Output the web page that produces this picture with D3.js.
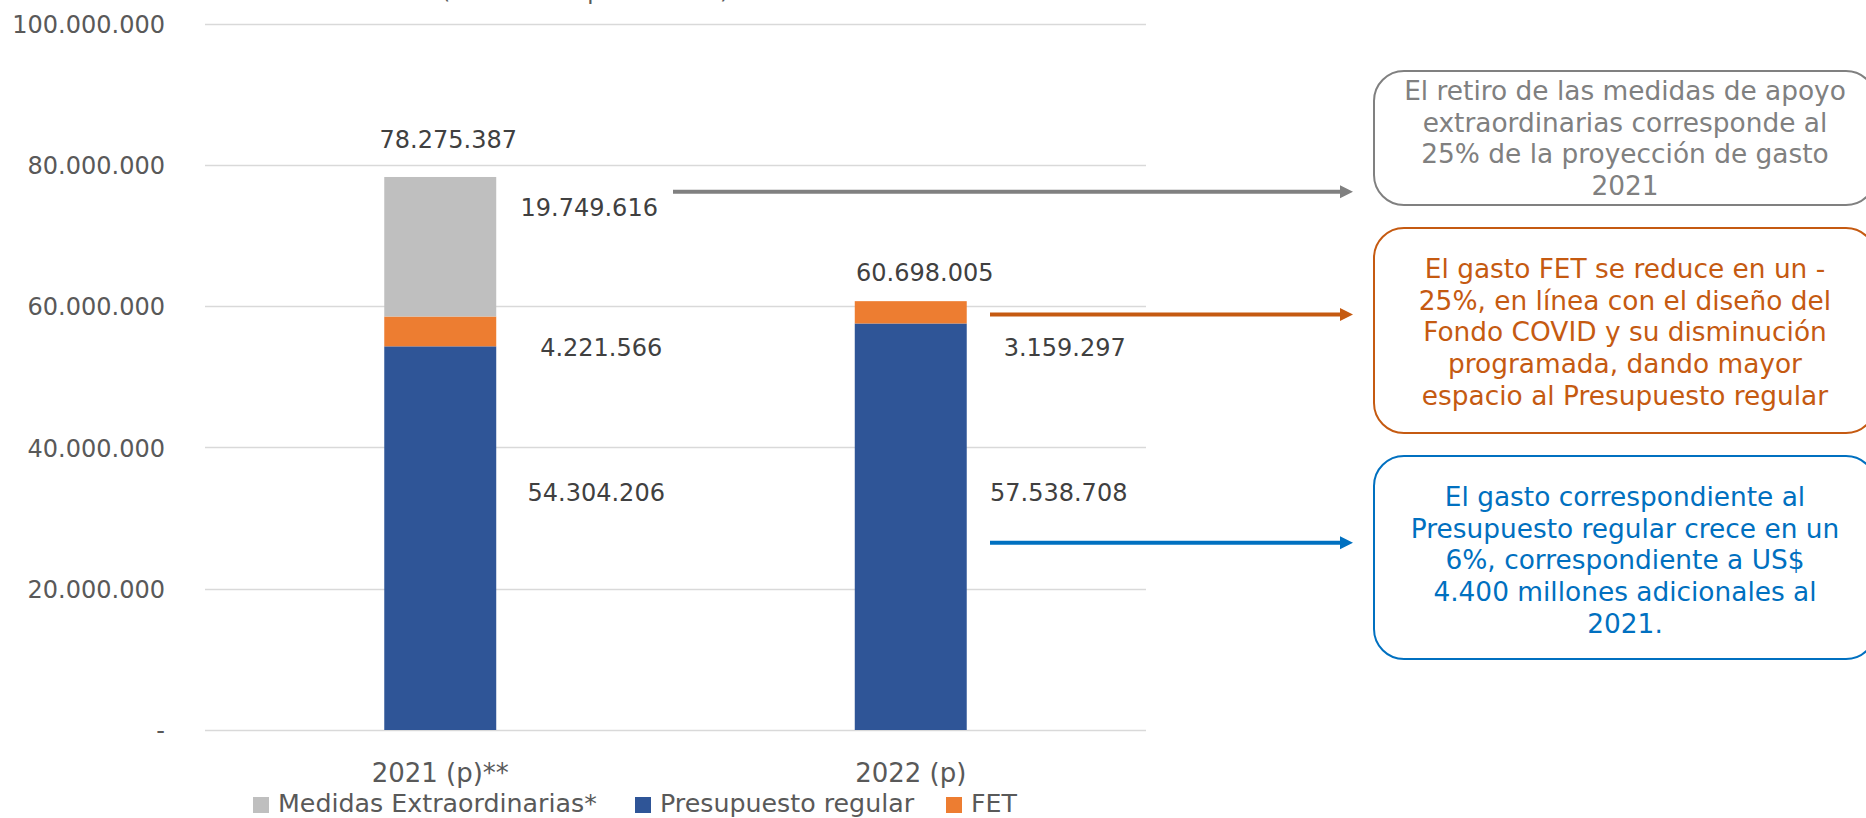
<!DOCTYPE html>
<html><head><meta charset="utf-8">
<script src="https://cdn.jsdelivr.net/npm/d3@7"></script>
<style>html,body{margin:0;padding:0;background:#fff;overflow:hidden}</style>
</head><body><svg id="c" width="1866" height="818"></svg>
<script>
// ---------- data ----------
const categories = ["2021 (p)**", "2022 (p)"];
const presupuestoRegular = [54304206, 57538708];
const fet = [4221566, 3159297];
const medidasExtraordinarias = [19749616, 0];
const totals = [78275387, 60698005];
const yTicks = [0, 20000000, 40000000, 60000000, 80000000, 100000000];
const seriesKeys = ["Presupuesto regular", "FET", "Medidas Extraordinarias*"];
const legendOrder = ["Medidas Extraordinarias*", "Presupuesto regular", "FET"];
const titleText = "(Millones de pesos 2022)";
const note1 = ["El retiro de las medidas de apoyo", "extraordinarias corresponde al", "25% de la proyección de gasto", "2021"];
const note2 = ["El gasto FET se reduce en un -", "25%, en línea con el diseño del", "Fondo COVID y su disminución", "programada, dando mayor", "espacio al Presupuesto regular"];
const note3 = ["El gasto correspondiente al", "Presupuesto regular crece en un", "6%, correspondiente a US$", "4.400 millones adicionales al", "2021."];

// ---------- layout / style ----------
const colors = {"Medidas Extraordinarias*": "#BFBFBF", "Presupuesto regular": "#2F5597", "FET": "#ED7D31"};
const FONT = "'DejaVu Sans', Verdana, sans-serif";
const svg = d3.select("#c");

const table = categories.map((c, i) => ({
  cat: c,
  "Presupuesto regular": presupuestoRegular[i],
  "FET": fet[i],
  "Medidas Extraordinarias*": medidasExtraordinarias[i],
  total: totals[i]
}));

const x = d3.scaleBand().domain(categories).range([205, 1146]).paddingInner(0.762).paddingOuter(0.381);
const y = d3.scaleLinear().domain([0, 100000000]).range([730, 23.5]);
const locale = d3.formatLocale({decimal: ",", thousands: ".", grouping: [3], currency: ["$", ""]});
const fmt = v => v === 0 ? "-" : locale.format(",.0f")(v);

// title (mostly cropped off the top, as in the source)
svg.append("text").attr("x", 585).attr("y", -1.5).attr("text-anchor", "middle")
  .attr("font-family", FONT).attr("font-size", 23).attr("fill", "#595959").text(titleText);

// gridlines
svg.append("g").selectAll("line").data(yTicks).join("line")
  .attr("x1", 205).attr("x2", 1146)
  .attr("y1", d => Math.round(y(d)) + 0.5).attr("y2", d => Math.round(y(d)) + 0.5)
  .attr("stroke", "#D9D9D9").attr("stroke-width", 1.5);

// y axis labels
const yAxis = d3.axisLeft(y).tickValues(yTicks).tickFormat(fmt).tickSize(0).tickPadding(0);
const yg = svg.append("g").attr("transform", "translate(165,0)").call(yAxis);
yg.select(".domain").remove();
yg.selectAll("text").attr("font-family", FONT).attr("font-size", 24).attr("fill", "#595959").attr("dy", "0.36em");

// x axis labels
const xAxis = d3.axisBottom(x).tickSize(0).tickPadding(0);
const xg = svg.append("g").attr("transform", "translate(0,761)").call(xAxis);
xg.select(".domain").remove();
xg.selectAll("text").attr("font-family", FONT).attr("font-size", 26).attr("fill", "#595959").attr("dy", "0.8em");

// stacked bars
const stack = d3.stack().keys(seriesKeys)(table);
const gBars = svg.append("g");
stack.forEach(layer => {
  gBars.selectAll(null).data(layer.filter(d => d[1] > d[0])).join("rect")
    .attr("x", d => x(d.data.cat))
    .attr("width", x.bandwidth())
    .attr("y", d => y(d[1]))
    .attr("height", d => y(d[0]) - y(d[1]))
    .attr("fill", colors[layer.key]);
});

// segment value labels (placed to the right of bars, offsets as in source)
const segOffsets = {
  "2021 (p)**": {"Presupuesto regular": [100, -37], "FET": [105, 25], "Medidas Extraordinarias*": [93, -31]},
  "2022 (p)": {"Presupuesto regular": [92, -26], "FET": [98, 44]}
};
stack.forEach(layer => {
  layer.forEach(d => {
    const v = d[1] - d[0];
    if (v <= 0) return;
    const off = segOffsets[d.data.cat][layer.key];
    svg.append("text")
      .attr("x", x(d.data.cat) + x.bandwidth() + off[0])
      .attr("y", y((d[0] + d[1]) / 2) + off[1])
      .attr("text-anchor", "middle").attr("font-family", FONT).attr("font-size", 24).attr("fill", "#404040")
      .text(fmt(v));
  });
});

// totals
const totOffsets = [[8, -29], [14, -20]];
svg.append("g").selectAll("text").data(table).join("text")
  .attr("x", (d, i) => x(d.cat) + x.bandwidth() / 2 + totOffsets[i][0])
  .attr("y", (d, i) => y(d.total) + totOffsets[i][1])
  .attr("text-anchor", "middle").attr("font-family", FONT).attr("font-size", 24).attr("fill", "#404040")
  .text(d => fmt(d.total));

// legend
const legX = [253, 635, 946];
const lg = svg.append("g");
legendOrder.forEach((k, i) => {
  lg.append("rect").attr("x", legX[i]).attr("y", 797).attr("width", 16).attr("height", 16).attr("fill", colors[k]);
  lg.append("text").attr("x", legX[i] + 25).attr("y", 812).attr("font-family", FONT).attr("font-size", 25.3)
    .attr("fill", "#595959").text(k);
});

// annotation arrows
const arrows = [
  {x1: 673, v: 76200000, color: "#808080"},
  {x1: 990, v: 58800000, color: "#C55A11"},
  {x1: 990, v: 26500000, color: "#0070C0"}
];
const tipX = 1353;
arrows.forEach(a => {
  const yy = y(a.v);
  svg.append("line").attr("x1", a.x1).attr("x2", tipX - 10).attr("y1", yy).attr("y2", yy)
    .attr("stroke", a.color).attr("stroke-width", 4);
  svg.append("path").attr("d", `M${tipX},${yy} L${tipX - 13},${yy - 6.5} L${tipX - 13},${yy + 6.5} Z`).attr("fill", a.color);
});

// annotation boxes
const boxes = [
  {y: 71, h: 134, color: "#808080", lines: note1, base: 100},
  {y: 228, h: 205, color: "#C55A11", lines: note2, base: 278},
  {y: 456, h: 203, color: "#0070C0", lines: note3, base: 506}
];
boxes.forEach(b => {
  svg.append("rect").attr("x", 1374).attr("y", b.y).attr("width", 502).attr("height", b.h)
    .attr("rx", 30).attr("ry", 30).attr("fill", "#fff").attr("stroke", b.color).attr("stroke-width", 2);
  const t = svg.append("text").attr("font-family", FONT).attr("font-size", 26.4).attr("fill", b.color).attr("text-anchor", "middle");
  b.lines.forEach((ln, i) => t.append("tspan").attr("x", 1625).attr("y", b.base + i * 31.7).text(ln));
});
</script>
</body></html>
